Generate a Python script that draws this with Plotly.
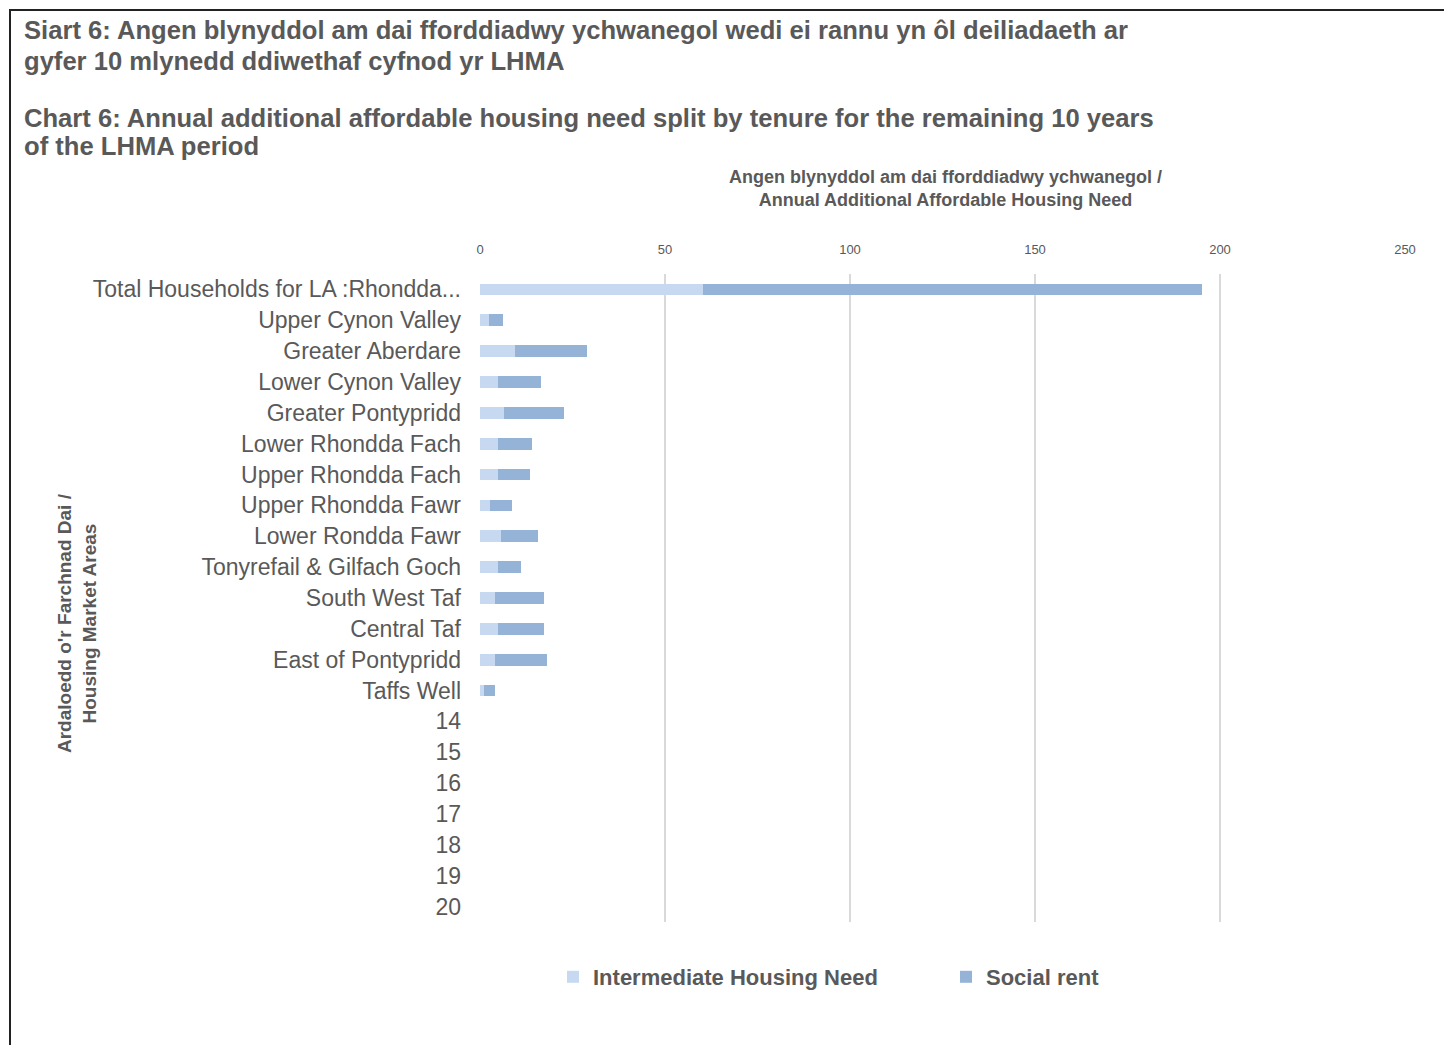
import plotly.graph_objects as go

categories = ["Total Households for LA :Rhondda...", "Upper Cynon Valley", "Greater Aberdare",
              "Lower Cynon Valley", "Greater Pontypridd", "Lower Rhondda Fach", "Upper Rhondda Fach",
              "Upper Rhondda Fawr", "Lower Rondda Fawr", "Tonyrefail & Gilfach Goch", "South West Taf",
              "Central Taf", "East of Pontypridd", "Taffs Well",
              "14", "15", "16", "17", "18", "19", "20"]
intermediate = [60.4, 2.5, 9.5, 4.9, 6.4, 4.9, 4.9, 2.6, 5.7, 4.9, 4.1, 4.9, 4.1, 1.1,
                None, None, None, None, None, None, None]
social_rent = [134.7, 3.8, 19.3, 11.5, 16.2, 9.2, 8.5, 6.1, 10.0, 6.1, 13.1, 12.3, 13.9, 2.9,
               None, None, None, None, None, None, None]
x_ticks = [0, 50, 100, 150, 200, 250]

OFF = 8  # page body margin
W, H = 1452 - 2 * OFF, 1053 - 2 * OFF
L, R, T, B = 480 - OFF, 1405 - OFF, 274 - OFF, 922 - OFF
GRAY = "#595959"
FONT = "Liberation Sans"


def px(x):
    return (x - OFF - L) / (R - L)


def py(y):
    return (B - (y - OFF)) / (B - T)


fig = go.Figure()
fig.add_trace(go.Bar(y=categories, x=intermediate, orientation="h", name="<b>Intermediate Housing Need</b>",
                     marker=dict(color="#c6d9f0", line=dict(width=0))))
fig.add_trace(go.Bar(y=categories, x=social_rent, orientation="h", name="<b>Social rent</b>",
                     marker=dict(color="#95b3d7", line=dict(width=0))))

fig.update_layout(
    width=W, height=H,
    margin=dict(l=L, r=W - R, t=T, b=H - B, pad=0),
    barmode="stack", bargap=0.62,
    plot_bgcolor="white", paper_bgcolor="white",
    font=dict(family=FONT, color=GRAY),
    showlegend=True,
    legend=dict(orientation="h", x=px(553), y=py(977), xanchor="left", yanchor="middle",
                font=dict(size=22, color=GRAY, family=FONT), entrywidth=348, entrywidthmode="pixels",
                traceorder="normal"),
)
fig.update_xaxes(range=[0, 250], tickvals=x_ticks, side="top", showgrid=True, gridcolor="#d9d9d9",
                 gridwidth=2, zeroline=False, showline=False, ticks="",
                 tickfont=dict(size=13, color=GRAY, family=FONT), ticklabelstandoff=16)
fig.update_yaxes(type="category", categoryorder="array", categoryarray=categories, autorange="reversed",
                 showgrid=False, zeroline=False, showline=False, ticks="",
                 tickfont=dict(size=23, color=GRAY, family=FONT), ticklabelstandoff=18)

titles = [
    ("Siart 6: Angen blynyddol am dai fforddiadwy ychwanegol wedi ei rannu yn ôl deiliadaeth ar", 30),
    ("gyfer 10 mlynedd ddiwethaf cyfnod yr LHMA", 61),
    ("Chart 6: Annual additional affordable housing need split by tenure for the remaining 10 years", 118),
    ("of the LHMA period", 146),
]
for text, y in titles:
    fig.add_annotation(text="<b>" + text + "</b>", xref="paper", yref="paper", x=px(22), y=py(y),
                       xanchor="left", yanchor="middle", showarrow=False,
                       font=dict(size=25.6, color=GRAY, family=FONT))

fig.add_annotation(text="<b>Angen blynyddol am dai fforddiadwy ychwanegol /<br>Annual Additional Affordable Housing Need</b>",
                   xref="paper", yref="paper", x=px(945), y=py(188), xanchor="center", yanchor="middle",
                   showarrow=False, font=dict(size=18, color=GRAY, family=FONT), align="center")
fig.add_annotation(text="<b>Ardaloedd o'r Farchnad Dai /<br>Housing Market Areas</b>",
                   xref="paper", yref="paper", x=px(77), y=py(623), xanchor="center", yanchor="middle",
                   textangle=-90, showarrow=False, font=dict(size=19, color=GRAY, family=FONT), align="center")

fig.add_shape(type="rect", xref="paper", yref="paper", x0=px(10), y0=py(1100), x1=px(1500), y1=py(10),
              line=dict(color="#222222", width=2), fillcolor="rgba(0,0,0,0)", layer="above")

fig.write_html("out.html")
